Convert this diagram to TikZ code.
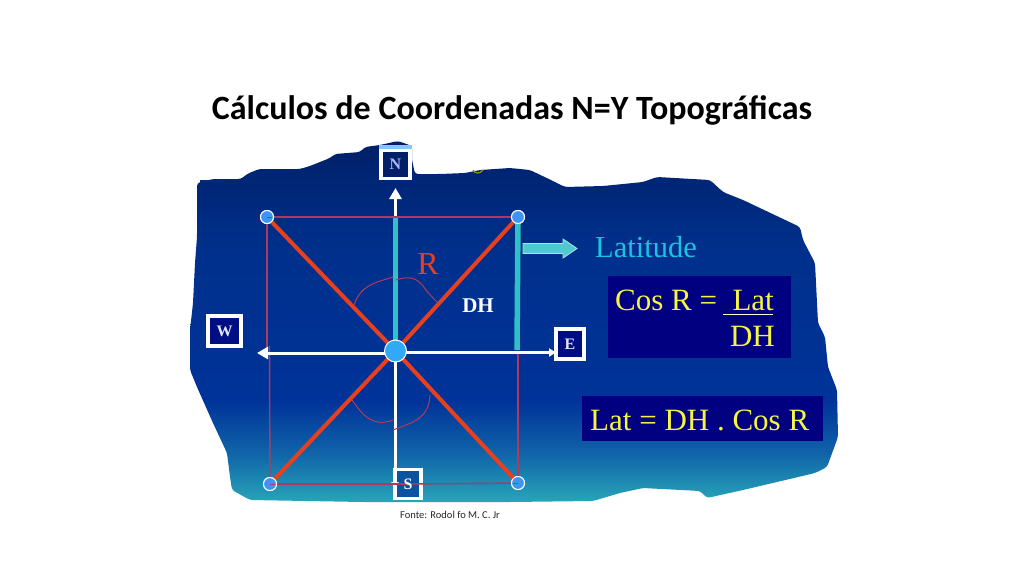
\documentclass[tikz,border=0pt]{standalone}
\usepackage{fontspec}
\setmainfont{Liberation Serif}
\newfontfamily\calib{Carlito}
\usetikzlibrary{arrows.meta}
\definecolor{rline}{HTML}{B03A5E}
\definecolor{rdiag}{HTML}{E8401C}
\definecolor{tealb}{HTML}{30C0C8}
\definecolor{dotb}{HTML}{3D94F5}
\definecolor{yel}{HTML}{F5F542}
\definecolor{boxn}{HTML}{000080}
\definecolor{cA}{HTML}{002068}
\definecolor{cB}{HTML}{00308C}
\definecolor{cC}{HTML}{003399}
\definecolor{cD}{HTML}{0F62A8}
\definecolor{cE}{HTML}{28A5B8}
\pgfdeclareverticalshading{blobshade}{100bp}{color(0bp)=(cE); color(25bp)=(cE); color(32bp)=(cD); color(39bp)=(cC); color(60bp)=(cB); color(75bp)=(cA); color(100bp)=(cA)}
\tikzset{
  dotn/.style={circle,fill=dotb,draw=white,line width=1pt,inner sep=0pt,minimum size=13pt},
  compass/.style={draw=white,line width=3.5pt,fill=#1,inner sep=0pt,font=\fontsize{16}{16}\selectfont\bfseries,text=white!90!blue},
  thinred/.style={rline,line width=1.4pt},
  diag/.style={rdiag,line width=4pt},
  tealbar/.style={tealb,line width=5.5pt},
  whitear/.style={white,line width=3pt,-{Triangle[length=11pt,width=12pt]}},
  arcl/.style={rline,line width=1pt},
  yt/.style={text=yel,inner sep=0pt,font=\fontsize{31}{31}\selectfont}
}
\begin{document}
\begin{tikzpicture}[x=1pt,y=-1pt]
\useasboundingbox (0,0) rectangle (1024,576);
\fill[white] (0,0) rectangle (1024,576);
% torn background
\path[shading=blobshade,rounded corners=3pt] (197,183) -- (213,179) -- (241,179) -- (247,174) -- (259,169) -- (300,169) -- (310,166) -- (330,158) -- (335,154) -- (360,152) -- (365,147) -- (380,145) -- (398,141) -- (412,146) -- (412,160) -- (415,174) -- (440,174) -- (465,173) -- (480,170) -- (510,168) -- (530,170) -- (553,181) -- (565,187) -- (603,186) -- (643,182) -- (657,177) -- (710,180) -- (723,192) -- (743,200) -- (800,227) -- (803,240) -- (815,263) -- (818,323) -- (825,337) -- (828,367) -- (837,390) -- (838,437) -- (827,467) -- (815,473) -- (777,482) -- (743,490) -- (707,498) -- (700,491) -- (643,488) -- (620,493) -- (593,501) -- (510,502) -- (363,502) -- (250,500) -- (232,490) -- (230,477) -- (227,453) -- (213,423) -- (197,387) -- (190,370) -- (190,330) -- (193,303) -- (195,263) -- (197,237) -- cycle;
\fill[cB!60!cA] (200,180) rectangle (224,182);
% remnants of clipped yellow text
\draw[yel!60!black,line width=1.2pt] (473,170) .. controls (475,174) and (480,174) .. (483,170);
% nodes
\node[dotn] (tl) at (267,217) {};
\node[dotn] (tr) at (518,217) {};
\node[dotn] (bl) at (270,484) {};
\node[dotn] (br) at (518,483) {};
\coordinate (cc) at (395.5,351);
\coordinate (lm) at (268,350);
\coordinate (rm) at (518,352);
\coordinate (topt) at (395.5,217);
\coordinate (nt) at (395.5,188);
\coordinate (wt) at (257,353);
\coordinate (et) at (556,352.5);
\coordinate (st) at (395.5,484);
\coordinate (sb) at (395.5,470);
% red frame
\draw[thinred] (tl.center) -- (tr.center);
\draw[thinred] (tl.center) -- (267,348);
\draw[thinred] (269.5,346) -- (bl.center);
\draw[thinred] (rm) -- (br.center);
% teal bars, axes
\draw[whitear] (topt) -- (nt);
\draw[tealbar] (tr.center) -- (517,350);
\draw[tealbar] (topt) -- (cc);
\draw[thinred] (tl.center) -- (tr.center);
\draw[diag] (tl.center) -- (cc);
\draw[diag] (tr.center) -- (cc);
\draw[diag] (bl.center) -- (cc);
\draw[diag] (br.center) -- (cc);
\draw[whitear] (cc |- wt) -- (wt);
\draw[whitear,-{Triangle[length=7pt,width=8pt]}] (cc |- et) -- (et);
\draw[white,line width=3pt] (cc) -- (sb);
% angle marks
\draw[arcl] (354,305) .. controls (361,284) and (378,282) .. (393,277);
\draw[arcl] (396,280) .. controls (408,276) and (416,277) .. (423,286) .. controls (428,293) and (433,298) .. (438,303);
\draw[arcl] (352,400) .. controls (362,414) and (372,428) .. (393,420);
\draw[arcl] (393,430) .. controls (410,423) and (429,420) .. (430,395);
% compass boxes
\fill[white!70!blue!70!cyan] (379,145) rectangle (412,150);
\node[compass=cA,minimum width=29pt,minimum height=28pt,text=white!70!blue] (N) at (395.5,164.5) {N};
\node[compass=boxn!70!cB,minimum width=33pt,minimum height=30pt] (W) at (224.5,331) {W};
\node[compass=boxn!70!cB,minimum width=28pt,minimum height=30pt] (E) at (570,344) {E};
\node[compass=cD!70!cB,minimum width=26pt,minimum height=29pt] (S) at (408,484) {};
% south tip + frame over S
\fill[white!80!pink] (391,482) -- (399,482) -- (395.5,487) -- cycle;
\draw[thinred] (bl.center) -- (S.center);
\draw[thinred] (S.center) -- (br.center);
\node[inner sep=0pt,text=white,font=\fontsize{16}{16}\selectfont\bfseries] at (S.center) {S};
% centre and corner dots on top
\node[circle,fill=dotb!80!cyan,draw=white,line width=1pt,inner sep=0pt,minimum size=22pt] (c) at (cc) {};
\node[dotn] at (tl) {};
\node[dotn] at (tr) {};
\node[dotn] at (bl) {};
\node[dotn] at (br) {};
\draw[rline,line width=1pt] (tl.center) -- ++(5,0);
\draw[rline,line width=1pt] (bl.center) -- ++(5,0);
\draw[rline,line width=1pt] (br.center) -- ++(-5,0);
% labels
\node[text=rdiag,inner sep=0pt,font=\fontsize{32}{32}\selectfont] (R) at (428,264) {R};
\node[text=white,inner sep=0pt,font=\fontsize{21}{21}\selectfont\bfseries] (DH) at (478,306) {DH};
\path[fill=tealb!85!white,draw=white!60!tealb,line width=.8pt] (523,243.5) -- (563,243.5) -- (563,239) -- (577,248.5) -- (563,258) -- (563,253.5) -- (523,253.5) -- cycle;
\node[text=tealb!60!cyan!90!blue,inner sep=0pt,font=\fontsize{30.5}{30}\selectfont] (lat) at (646,247) {Latitude};
% formula boxes
\fill[boxn] (608,276) rectangle (791,358);
\fill[boxn] (582,396) rectangle (823,441);
\node[yt,anchor=base west] (f1) at (615,310) {Cos R =};
\node[yt,anchor=base east] (f2) at (774,310) {Lat};
\node[yt,anchor=base east] (f3) at (775,346) {DH};
\draw[white!70!yel,line width=1pt] (723,314) -- (773,314);
\node[yt,anchor=base west] (f4) at (590,430.5) {Lat = DH . Cos R};
% title, source
\node[inner sep=0pt,font=\calib\bfseries\fontsize{34}{34}\selectfont] (title) at (512,110) {Cálculos de Coordenadas N=Y Topográficas};
\node[inner sep=0pt,font=\calib\fontsize{10.5}{11}\selectfont,text=black!85] (src) at (450,514.5) {Fonte: Rodol fo M. C. Jr};
\end{tikzpicture}
\end{document}
